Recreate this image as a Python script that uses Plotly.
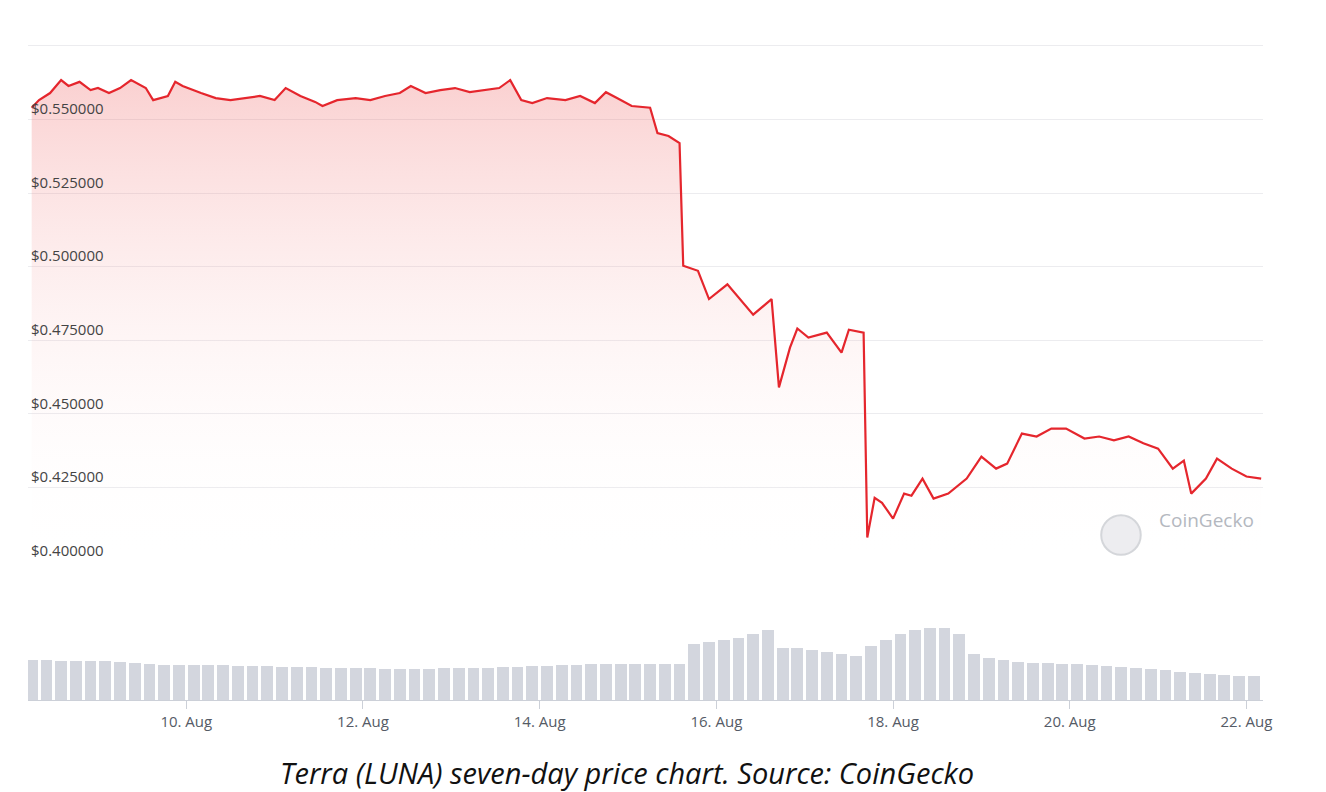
import pandas as pd
import plotly.graph_objects as go

start = pd.Timestamp("2022-08-08")

# price: hours since 8 Aug 00:00 and USD price
price_hours = [6, 8, 11, 14, 16, 19, 22, 24, 27, 30, 33, 37, 39, 43, 45, 47, 52, 56, 60, 64,
               68, 72, 75, 79, 83, 85, 89, 94, 98, 102, 106, 109, 113, 117, 121, 125, 129, 133,
               136, 139, 142, 146, 151, 155, 159, 162, 165, 169, 174, 176, 179, 182, 183, 187,
               190, 195, 202, 207, 209, 212, 214, 217, 222, 226, 228, 232, 233, 235, 237, 240,
               243, 245, 248, 251, 255, 260, 264, 268, 271, 275, 279, 283, 287, 292, 296, 300,
               304, 308, 312, 316, 319, 321, 325, 328, 332, 336, 340]
prices = [0.554, 0.5566, 0.559, 0.5634, 0.5614, 0.5628, 0.560, 0.5607, 0.559, 0.5607, 0.5634,
          0.5607, 0.5566, 0.558, 0.5628, 0.5614, 0.559, 0.5573, 0.5566, 0.5573, 0.558, 0.5566,
          0.5607, 0.558, 0.556, 0.5546, 0.5566, 0.5573, 0.5566, 0.558, 0.559, 0.5614, 0.559,
          0.560, 0.5607, 0.5593, 0.560, 0.5607, 0.5634, 0.5566, 0.5556, 0.5573, 0.5566, 0.558,
          0.5556, 0.5593, 0.5573, 0.5546, 0.554, 0.5454, 0.5444, 0.542, 0.5003, 0.4986, 0.489,
          0.494, 0.4837, 0.489, 0.459, 0.4725, 0.479, 0.4759, 0.4776, 0.4708, 0.4786, 0.4776,
          0.408, 0.4215, 0.4198, 0.4144, 0.4229, 0.4222, 0.428, 0.4212, 0.4229, 0.428, 0.4355,
          0.4314, 0.4331, 0.4433, 0.4423, 0.445, 0.445, 0.4416, 0.4423, 0.441, 0.4423, 0.440,
          0.4382, 0.4314, 0.4341, 0.4229, 0.428, 0.4348, 0.4314, 0.4287, 0.428]

# volume (relative units) every 4 hours from hour 6
volume_hours = list(range(6, 339, 4))
volumes = [40, 40, 39, 39, 39, 39, 38,
           37, 36, 35, 35, 35, 35, 35, 34,
           34, 34, 33, 33, 33, 32, 32, 32, 32, 31, 31, 31, 31, 32, 32, 32,
           32, 33, 33, 34, 34, 35, 35, 36, 36, 36, 36, 36, 36, 36,
           56, 58, 60, 62, 66, 70,
           52, 52, 50, 48, 46, 44,
           54, 60, 66, 70, 72, 72,
           66, 46, 42, 40,
           38, 37, 37, 36, 36, 35, 34, 33, 32, 31, 30, 28, 27, 26, 25, 24, 24]

price_ticks = [0.400, 0.425, 0.450, 0.475, 0.500, 0.525, 0.550, 0.575]
price_labels = ["$0.400000", "$0.425000", "$0.450000", "$0.475000",
                "$0.500000", "$0.525000", "$0.550000", "$0.575000"]

px_t = [start + pd.Timedelta(hours=h) for h in price_hours]
vol_t = [start + pd.Timedelta(hours=h) for h in volume_hours]

fig = go.Figure()
fig.add_trace(go.Scatter(x=px_t, y=[0.400] * len(px_t), mode="lines",
                         line=dict(width=0), hoverinfo="skip", showlegend=False))
fig.add_trace(go.Scatter(x=px_t, y=prices, mode="lines", fill="tonexty",
                         line=dict(color="#e5262d", width=2.2),
                         fillgradient=dict(type="vertical",
                                           colorscale=[[0, "rgba(255,255,255,0)"],
                                                       [1, "rgba(238,90,90,0.28)"]]),
                         showlegend=False))
fig.add_trace(go.Bar(x=vol_t, y=volumes, yaxis="y2", marker_color="#d3d6de",
                     marker_line_width=0, width=3.2 * 3600 * 1000, showlegend=False))

fig.update_layout(
    width=1326, height=792,
    margin=dict(l=20, r=71, t=20, b=100),
    plot_bgcolor="white", paper_bgcolor="white",
    font=dict(family="Open Sans", color="#555b66", size=15),
    xaxis=dict(type="date", anchor="y2",
               range=[start + pd.Timedelta(hours=5), start + pd.Timedelta(hours=340.5)],
               tickformat="%d. %b", dtick=2 * 86400000, tick0="2022-08-10",
               showgrid=False, showline=True, linecolor="#ccd0d8", ticks="outside",
               tickcolor="#ccd0d8", ticklen=8, tickfont=dict(size=15)),
    yaxis=dict(domain=[0.2068, 1], range=[0.400, 0.5811], tickvals=price_ticks,
               ticktext=price_labels, ticklabelposition="inside top",
               gridcolor="#ececef", zeroline=False, tickfont=dict(size=15)),
    yaxis2=dict(domain=[0, 0.1146], range=[0, 77], visible=False),
    bargap=0,
)

fig.add_shape(type="circle", xref="paper", yref="paper", x0=0.869, x1=0.901, y0=0.216, y1=0.275,
              line=dict(color="#d4d6da", width=2), fillcolor="#ededf0")
fig.add_annotation(text="CoinGecko", xref="x domain", yref="y domain", x=0.994, y=0.049,
                   xanchor="right", showarrow=False, font=dict(size=19, color="#b4b8bf"))

fig.add_annotation(text="<i>Terra (LUNA) seven-day price chart. Source: CoinGecko</i>",
                   xref="paper", yref="paper", x=0.485, y=-0.1086, yanchor="middle",
                   showarrow=False, font=dict(size=29, color="#111111", family="Open Sans"))

fig.write_html("out.html")
